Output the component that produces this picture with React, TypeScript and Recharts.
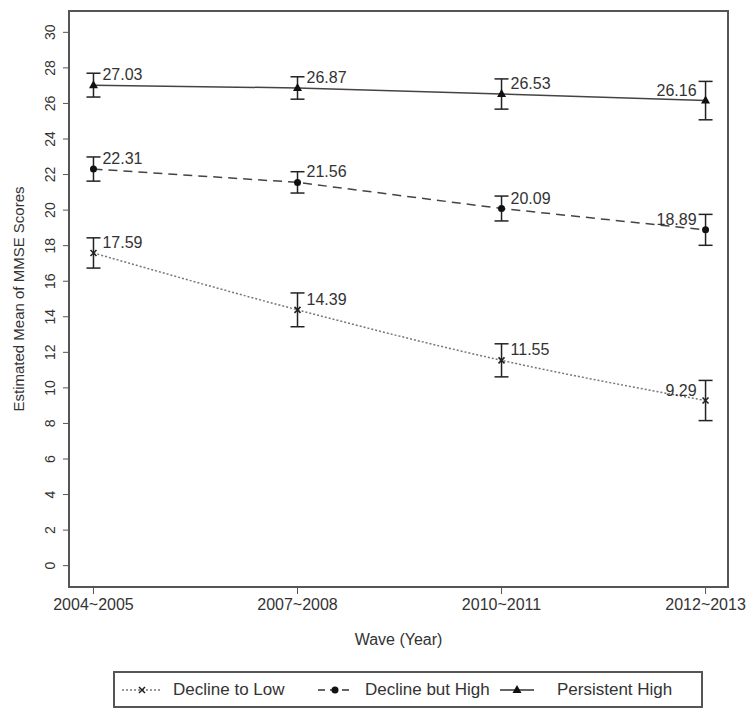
import React from "react";
import {
  ErrorBar,
  LabelList,
  Legend,
  Line,
  LineChart,
  ReferenceArea,
  XAxis,
  YAxis
} from "recharts";

const waves = ["2004~2005", "2007~2008", "2010~2011", "2012~2013"];
const yTicks = [0, 2, 4, 6, 8, 10, 12, 14, 16, 18, 20, 22, 24, 26, 28, 30];

const declineToLow = [17.59, 14.39, 11.55, 9.29];
const declineToLowErr = [0.85, 0.95, 0.93, 1.13];
const declineButHigh = [22.31, 21.56, 20.09, 18.89];
const declineButHighErr = [0.68, 0.6, 0.7, 0.87];
const persistentHigh = [27.03, 26.87, 26.53, 26.16];
const persistentHighErr = [0.67, 0.63, 0.85, 1.08];

const data = waves.map((w, i) => ({
  x: i,
  low: declineToLow[i],
  lowErr: declineToLowErr[i],
  butHigh: declineButHigh[i],
  butHighErr: declineButHighErr[i],
  high: persistentHigh[i],
  highErr: persistentHighErr[i]
}));

const font = "'Liberation Sans', Arial, sans-serif";
const ink = "#333";

const CrossDot = (props: any) => {
  const { cx, cy } = props;
  return (
    <path
      d={`M${cx - 3},${cy - 3}L${cx + 3},${cy + 3}M${cx - 3},${cy + 3}L${cx + 3},${cy - 3}`}
      stroke="#222"
      strokeWidth={1.6}
    />
  );
};

const CircleDot = (props: any) => {
  const { cx, cy } = props;
  return <circle cx={cx} cy={cy} r={3.5} fill="#111" />;
};

const TriangleDot = (props: any) => {
  const { cx, cy } = props;
  return <path d={`M${cx},${cy - 5}L${cx + 4.5},${cy + 3}L${cx - 4.5},${cy + 3}Z`} fill="#111" />;
};

const ValueLabel = (props: any) => {
  const { x, y, value, index } = props;
  const last = index === waves.length - 1;
  return (
    <text
      x={last ? x - 9 : x + 9}
      y={y - 5}
      textAnchor={last ? "end" : "start"}
      fontSize={16}
      fontFamily={font}
      fill={ink}
    >
      {value.toFixed(2)}
    </text>
  );
};

const YTick = (props: any) => {
  const { x, y, payload } = props;
  return (
    <text
      transform={`translate(${x - 6},${y}) rotate(-90)`}
      textAnchor="middle"
      fontSize={14}
      fontFamily={font}
      fill={ink}
    >
      {payload.value}
    </text>
  );
};

const YLabel = (props: any) => {
  const { viewBox } = props;
  const cy = viewBox.y + viewBox.height / 2;
  return (
    <text
      transform={`translate(24,${cy}) rotate(-90)`}
      textAnchor="middle"
      fontSize={15}
      fontFamily={font}
      fill={ink}
    >
      Estimated Mean of MMSE Scores
    </text>
  );
};

const legendItems = [
  { name: "Decline to Low", dash: "2 2", sym: 0, lineX: 7, lineW: 40, textX: 58 },
  { name: "Decline but High", dash: "7 5", sym: 1, lineX: 203, lineW: 34, textX: 250 },
  { name: "Persistent High", dash: undefined, sym: 2, lineX: 385, lineW: 34, textX: 442 }
];

const LegendBox = () => (
  <div
    style={{
      position: "relative",
      width: 590,
      height: 37,
      border: "2px solid #555",
      boxSizing: "border-box",
      fontFamily: font,
      fontSize: 17,
      color: ink
    }}
  >
    {legendItems.map((it) => {
      const c = it.lineW / 2;
      return (
        <React.Fragment key={it.name}>
          <svg
            width={it.lineW}
            height={14}
            style={{ position: "absolute", left: it.lineX, top: 10 }}
          >
            <line
              x1={0}
              x2={it.lineW}
              y1={7}
              y2={7}
              stroke={it.sym === 0 ? "#777" : ink}
              strokeWidth={1.5}
              strokeDasharray={it.dash}
            />
            {it.sym === 0 && (
              <path d={`M${c - 3},4L${c + 3},10M${c - 3},10L${c + 3},4`} stroke="#222" strokeWidth={1.5} />
            )}
            {it.sym === 1 && <circle cx={c} cy={7} r={3.5} fill="#111" />}
            {it.sym === 2 && <path d={`M${c},2L${c + 4.5},10L${c - 4.5},10Z`} fill="#111" />}
          </svg>
          <span style={{ position: "absolute", left: it.textX, top: 7, whiteSpace: "nowrap" }}>
            {it.name}
          </span>
        </React.Fragment>
      );
    })}
  </div>
);

export default function App() {
  return (
    <div style={{ position: "absolute", left: 0, top: 0, background: "#fff" }}>
      <LineChart
        width={754}
        height={718}
        data={data}
        margin={{ top: 11, right: 26, left: 0, bottom: 36 }}
      >
        <XAxis
          dataKey="x"
          type="number"
          domain={[-0.12, 3.11]}
          ticks={[0, 1, 2, 3]}
          allowDataOverflow
          tickFormatter={(i: number) => waves[i]}
          height={58}
          tickSize={7}
          tickMargin={5}
          stroke="#555"
          axisLine={false}
          tick={{ fontSize: 16, fontFamily: font, fill: ink }}
          label={{
            value: "Wave (Year)",
            position: "insideBottom",
            offset: 0,
            fill: ink,
            style: { fontSize: 16, fontFamily: font, fill: ink }
          }}
        />
        <YAxis
          type="number"
          domain={[-1.2, 31.2]}
          ticks={yTicks}
          allowDataOverflow
          width={69}
          tickSize={6}
          tickMargin={2}
          stroke="#555"
          axisLine={false}
          tick={<YTick />}
          label={{ content: <YLabel /> }}
        />
        <ReferenceArea
          x1={-0.12}
          x2={3.11}
          y1={-1.2}
          y2={31.2}
          fill="none"
          stroke="#555"
          strokeWidth={2}
          ifOverflow="visible"
        />
        <Line
          dataKey="low"
          type="monotone"
          stroke="#777"
          strokeWidth={1.5}
          strokeDasharray="2 2"
          dot={<CrossDot />}
          activeDot={false}
          isAnimationActive={false}
        >
          <ErrorBar dataKey="lowErr" width={7} stroke="#222" strokeWidth={1.5} direction="y" />
          <LabelList dataKey="low" content={<ValueLabel />} />
        </Line>
        <Line
          dataKey="butHigh"
          type="linear"
          stroke="#444"
          strokeWidth={1.5}
          strokeDasharray="9 6"
          dot={<CircleDot />}
          activeDot={false}
          isAnimationActive={false}
        >
          <ErrorBar dataKey="butHighErr" width={7} stroke="#222" strokeWidth={1.5} direction="y" />
          <LabelList dataKey="butHigh" content={<ValueLabel />} />
        </Line>
        <Line
          dataKey="high"
          type="linear"
          stroke="#444"
          strokeWidth={1.5}
          dot={<TriangleDot />}
          activeDot={false}
          isAnimationActive={false}
        >
          <ErrorBar dataKey="highErr" width={7} stroke="#222" strokeWidth={1.5} direction="y" />
          <LabelList dataKey="high" content={<ValueLabel />} />
        </Line>
        <Legend
          content={<LegendBox />}
          wrapperStyle={{ position: "absolute", left: 113, top: 671, width: 590, height: 37, bottom: "auto" }}
        />
      </LineChart>
    </div>
  );
}
